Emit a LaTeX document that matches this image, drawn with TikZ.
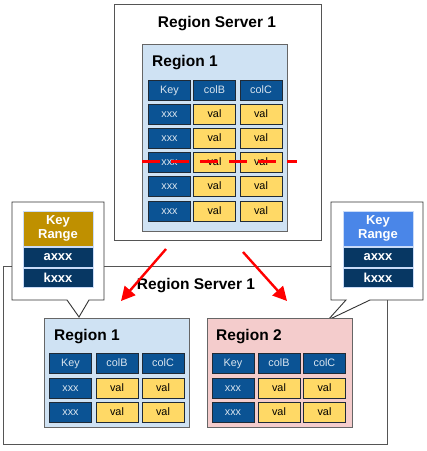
\documentclass[tikz,border=0pt]{standalone}
\usepackage{fontspec}
\setmainfont{Liberation Sans}
\usetikzlibrary{arrows.meta}
\definecolor{regblue}{HTML}{CFE2F3}
\definecolor{regpink}{HTML}{F4CCCC}
\definecolor{keyblue}{HTML}{0B5394}
\definecolor{valyel}{HTML}{FFD966}
\definecolor{navy}{HTML}{073763}
\definecolor{gold}{HTML}{BF9000}
\definecolor{cblue}{HTML}{4A86E8}
\definecolor{celledge}{HTML}{1F2A36}
\definecolor{boxedge}{HTML}{555555}
\tikzset{
  server/.style={draw=boxedge,line width=1pt,fill=white},
  region/.style={draw=boxedge!90,line width=0.9pt},
  title/.style={font=\fontsize{15.5}{18}\selectfont\bfseries,inner sep=0pt},
  cellbase/.style={minimum width=42pt,minimum height=20pt,inner sep=0pt,line width=0.9pt,draw=celledge,font=\fontsize{10.8}{12}\selectfont,text height=7.6pt,text depth=1.4pt},
  keycell/.style={cellbase,fill=keyblue,text=white!85!keyblue},
  valcell/.style={cellbase,fill=valyel,text=black},
  krcell/.style={minimum width=70pt,inner sep=0pt,draw=white!70!cblue,line width=0.6pt,text=white,font=\fontsize{13}{15.5}\selectfont\bfseries,align=center},
  callout/.style={draw=black!80,line width=0.9pt,fill=white},
  split/.style={draw=red,line width=3pt,dash pattern=on 18pt off 11pt},
  move/.style={draw=red,line width=2.4pt,-{Triangle[length=14pt,width=14pt]}}
}
\begin{document}
\begin{tikzpicture}[x=1pt,y=-1pt]
\useasboundingbox (0,0) rectangle (427,451);
% bottom server box
\node[server,minimum width=384pt,minimum height=178pt,inner sep=0pt,anchor=north west] (bsrv) at (3,266) {};
% top server box
\node[server,minimum width=207pt,minimum height=236pt,inner sep=0pt,anchor=north west] (tsrv) at (114,4) {};
\node[title] (ttitle) at (217,24) {Region Server 1};
% top region
\node[region,fill=regblue,minimum width=145pt,minimum height=187pt,inner sep=0pt,anchor=north west] (treg) at (142,44) {};
\node[title,anchor=west] (tregl) at (152,63) {Region 1};
\node[keycell] (t-0-1) at (169.5,90) {Key};
\node[keycell] (t-0-2) at (214.5,90) {colB};
\node[keycell] (t-0-3) at (261,90) {colC};
\foreach \r/\yy in {1/114.2,2/138.4,3/162.6,4/186.8,5/211}{
  \node[keycell] (t-\r-1) at (169.5,\yy) {xxx};
  \node[valcell] (t-\r-2) at (214.5,\yy) {val};
  \node[valcell] (t-\r-3) at (261,\yy) {val};
}
\coordinate (cutL) at (142,161);
\coordinate (cutR) at (297,161);
\draw[split] (cutL) -- (cutR);
% callouts
\draw[callout] (12,202) -- (104,202) -- (104,300) -- (89,300) -- (79,317) -- (67,300) -- (12,300) -- cycle;
\draw[callout] (331,202) -- (423,202) -- (423,300) -- (370,300) -- (328,320) -- (346,300) -- (331,300) -- cycle;
\node[krcell,fill=gold,minimum height=35pt] (lkr) at (58,228.5) {Key\\[-1pt]Range};
\node[krcell,fill=navy,minimum height=20pt] (lax) at (58,257) {axxx};
\node[krcell,fill=navy,minimum height=19pt] (lkx) at (58,277.5) {kxxx};
\node[krcell,fill=cblue,minimum height=35pt] (rkr) at (378,228.5) {Key\\[-1pt]Range};
\node[krcell,fill=navy,minimum height=20pt] (rax) at (378,257) {axxx};
\node[krcell,fill=navy,minimum height=19pt] (rkx) at (378,277.5) {kxxx};
% bottom title
\node[title] (btitle) at (196,286) {Region Server 1};
% bottom region 1
\node[region,fill=regblue,minimum width=145pt,minimum height=109pt,inner sep=0pt,anchor=north west] (breg1) at (44,318) {};
\node[title,anchor=west] (breg1l) at (54,337) {Region 1};
\node[keycell] (a-0-1) at (70.5,363.5) {Key};
\node[keycell] (a-0-2) at (117,363.5) {colB};
\node[keycell] (a-0-3) at (163,363.5) {colC};
\foreach \r/\yy in {1/388,2/412.5}{
  \node[keycell] (a-\r-1) at (70.5,\yy) {xxx};
  \node[valcell] (a-\r-2) at (117,\yy) {val};
  \node[valcell] (a-\r-3) at (163,\yy) {val};
}
% bottom region 2
\node[region,fill=regpink,minimum width=145pt,minimum height=109pt,inner sep=0pt,anchor=north west] (breg2) at (207,318) {};
\node[title,anchor=west] (breg2l) at (216,337) {Region 2};
\node[keycell] (b-0-1) at (233,363.5) {Key};
\node[keycell] (b-0-2) at (279,363.5) {colB};
\node[keycell] (b-0-3) at (324.5,363.5) {colC};
\foreach \r/\yy in {1/388,2/412.5}{
  \node[keycell] (b-\r-1) at (233,\yy) {xxx};
  \node[valcell] (b-\r-2) at (279,\yy) {val};
  \node[valcell] (b-\r-3) at (324.5,\yy) {val};
}
% arrows
\coordinate (aLs) at (166,249);
\coordinate (aLe) at (121,301);
\coordinate (aRs) at (243,252);
\coordinate (aRe) at (287,301);
\draw[move] (aLs) -- (aLe);
\draw[move] (aRs) -- (aRe);
\end{tikzpicture}
\end{document}
